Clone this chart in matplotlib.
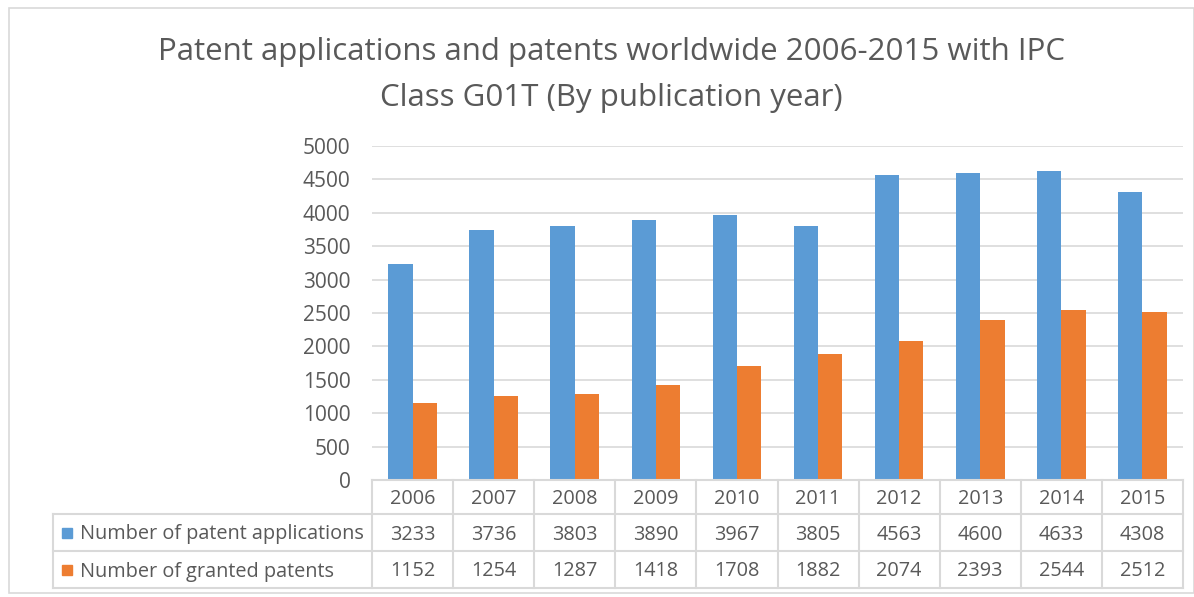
import matplotlib.pyplot as plt
from matplotlib.lines import Line2D
from matplotlib.patches import Rectangle
from matplotlib.transforms import blended_transform_factory
import numpy as np

# ---------------------------------------------------------------------------
# Data
# ---------------------------------------------------------------------------
years = ["2006", "2007", "2008", "2009", "2010",
         "2011", "2012", "2013", "2014", "2015"]
applications = [3233, 3736, 3803, 3890, 3967, 3805, 4563, 4600, 4633, 4308]
granted = [1152, 1254, 1287, 1418, 1708, 1882, 2074, 2393, 2544, 2512]
series_labels = ["Number of patent applications", "Number of granted patents"]

BLUE = "#5B9BD5"
ORANGE = "#ED7D31"
TEXT = "#595959"
GRID = "#D9D9D9"

W, H = 1194, 597
plt.rcParams["font.family"] = ["Open Sans", "DejaVu Sans"]

fig = plt.figure(figsize=(W / 100, H / 100), dpi=100)


def fx(px):
    return px / W


def fy(py):
    return 1 - py / H


# chart border
fig.add_artist(Rectangle((fx(9), fy(593)), fx(1194) - fx(9), fy(8) - fy(593),
                         transform=fig.transFigure, fill=False,
                         edgecolor=GRID, lw=1.2))

left, right, top, bottom = 372, 1183, 146, 480
ax = fig.add_axes([fx(left), fy(bottom), fx(right) - fx(left), fy(top) - fy(bottom)])

x = np.arange(len(years))
bw = 0.3
ax.bar(x - bw / 2, applications, bw, color=BLUE, zorder=3)
ax.bar(x + bw / 2, granted, bw, color=ORANGE, zorder=3)

ax.set_xlim(-0.5, len(years) - 0.5)
ax.set_ylim(0, 5000)
ax.set_yticks(range(0, 5001, 500))
ax.yaxis.grid(True, color=GRID, lw=1.2, zorder=0)
ax.set_xticks([])
ax.tick_params(axis="y", length=0, pad=15.5, labelsize=15, labelcolor=TEXT)
for s in ax.spines.values():
    s.set_visible(False)

fig.text(fx(611), fy(52), "Patent applications and patents worldwide 2006-2015 with IPC",
         ha="center", va="center", fontsize=22.5, color=TEXT)
fig.text(fx(611), fy(98), "Class G01T (By publication year)",
         ha="center", va="center", fontsize=22.5, color=TEXT)

# ---------------------------------------------------------------------------
# Data table under the axis
# ---------------------------------------------------------------------------
tr = blended_transform_factory(ax.transData, fig.transFigure)
r0, r1, r2, r3 = 480, 514, 551, 588
lkw = dict(color=GRID, lw=1.5, clip_on=False)

# horizontal lines
fig.add_artist(Line2D([fx(left), fx(right)], [fy(r0), fy(r0)], transform=fig.transFigure, **lkw))
for r in (r1, r2, r3):
    fig.add_artist(Line2D([fx(53), fx(right)], [fy(r), fy(r)], transform=fig.transFigure, **lkw))
# vertical lines
fig.add_artist(Line2D([fx(53), fx(53)], [fy(r1), fy(r3)], transform=fig.transFigure, **lkw))
for b in np.arange(len(years) + 1) - 0.5:
    fig.add_artist(Line2D([b, b], [fy(r0), fy(r3)], transform=tr, **lkw))

fs = 14.3
dy = 2
for i, yr in enumerate(years):
    fig.text(i, fy((r0 + r1) / 2 + dy), yr, transform=tr, ha="center", va="center",
             fontsize=fs, color=TEXT)
    fig.text(i, fy((r1 + r2) / 2 + dy), str(applications[i]), transform=tr,
             ha="center", va="center", fontsize=fs, color=TEXT)
    fig.text(i, fy((r2 + r3) / 2 + dy), str(granted[i]), transform=tr,
             ha="center", va="center", fontsize=fs, color=TEXT)

for (ra, rb), lab, col in zip([(r1, r2), (r2, r3)], series_labels, [BLUE, ORANGE]):
    yc = (ra + rb) / 2
    fig.add_artist(Rectangle((fx(62), fy(yc + 5)), fx(10), fy(yc - 5) - fy(yc + 5),
                             transform=fig.transFigure, color=col))
    fig.text(fx(80), fy(yc + dy), lab, ha="left", va="center", fontsize=fs, color=TEXT)

fig.savefig("out.png", dpi=100)
